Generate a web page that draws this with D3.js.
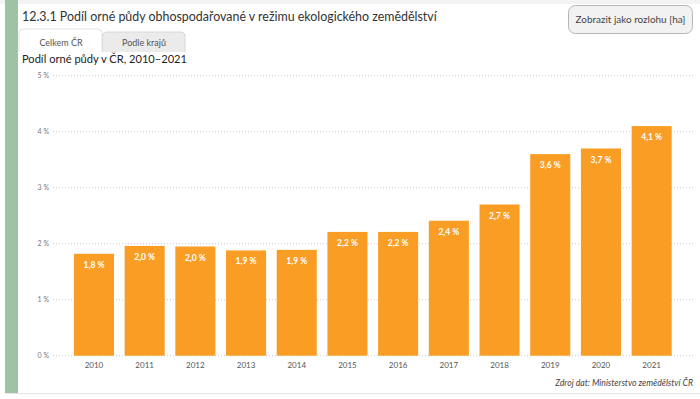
<!DOCTYPE html>
<html>
<head>
<meta charset="utf-8">
<script src="https://cdn.jsdelivr.net/npm/d3@7"></script>
<style>
  html, body { margin: 0; padding: 0; background: #fff; }
  svg { display: block; font-family: Lato, "Open Sans", sans-serif; }
</style>
</head>
<body>
<div id="chart"></div>
<script>
// data
var years = ["2010", "2011", "2012", "2013", "2014", "2015", "2016", "2017", "2018", "2019", "2020", "2021"];
var shares = [1.82, 1.96, 1.95, 1.88, 1.89, 2.21, 2.21, 2.41, 2.70, 3.60, 3.70, 4.10];
var shareLabels = ["1,8 %", "2,0 %", "2,0 %", "1,9 %", "1,9 %", "2,2 %", "2,2 %", "2,4 %", "2,7 %", "3,6 %", "3,7 %", "4,1 %"];
var yTicks = [0, 1, 2, 3, 4, 5];

var title = "12.3.1 Podíl orné půdy obhospodařované v režimu ekologického zemědělství";
var subtitle = "Podíl orné půdy v ČR, 2010–2021";
var source = "Zdroj dat: Ministerstvo zemědělství ČR";

var W = 700, H = 399;

var svg = d3.select("#chart")
  .append("svg")
    .attr("width", W)
    .attr("height", H);

// scale a text's font size so it spans the given width
function fitText(sel, width) {
  var fs = +sel.attr("font-size");
  var len = sel.node().getComputedTextLength();
  if (len > 0) sel.attr("font-size", (fs * width / len).toFixed(2));
}

// panel frame
svg.append("rect")
  .attr("x", 0).attr("y", 0).attr("width", W).attr("height", 4)
  .attr("fill", "#f3f3f3");
svg.append("rect")
  .attr("x", 5).attr("y", 0).attr("width", 13).attr("height", 393)
  .attr("fill", "#9dc3a3");
svg.append("line")
  .attr("x1", 5).attr("x2", W).attr("y1", 393.5).attr("y2", 393.5)
  .attr("stroke", "#e6e6e6");

var titleText = svg.append("text")
  .attr("x", 22).attr("y", 21)
  .attr("font-size", 14)
  .attr("fill", "#333")
  .text(title);
fitText(titleText, 415);

// button
svg.append("rect")
  .attr("x", 568.5).attr("y", 5.5).attr("width", 124).attr("height", 28)
  .attr("rx", 7)
  .attr("fill", "#f2f2f2")
  .attr("stroke", "#b5b5b5");
var btnText = svg.append("text")
  .attr("x", 630.5).attr("y", 23)
  .attr("text-anchor", "middle")
  .attr("font-size", 9.5)
  .attr("fill", "#444")
  .text("Zobrazit jako rozlohu [ha]");
fitText(btnText, 110);

// tabs
svg.append("path")
  .attr("d", "M102.5,52V36q0,-4 4,-4H181q4,0 4,4V52")
  .attr("fill", "#ebebeb")
  .attr("stroke", "#d8d8d8");
svg.append("path")
  .attr("d", "M19,52V33q0,-4 4,-4H98q4,0 4,4V52")
  .attr("fill", "#fff")
  .attr("stroke", "#e2e2e2");
svg.append("text")
  .attr("x", 61).attr("y", 46)
  .attr("text-anchor", "middle")
  .attr("font-size", 9)
  .attr("fill", "#555")
  .text("Celkem ČR");
svg.append("text")
  .attr("x", 144).attr("y", 46)
  .attr("text-anchor", "middle")
  .attr("font-size", 9)
  .attr("fill", "#555")
  .text("Podle krajů");

var subText = svg.append("text")
  .attr("x", 22).attr("y", 63)
  .attr("font-size", 12)
  .attr("fill", "#222")
  .text(subtitle);
fitText(subText, 165);

// scales
var xscale = d3.scaleBand()
  .domain(years)
  .range([68.6, 677])
  .paddingInner(0.21)
  .paddingOuter(0.105);

var yscale = d3.scaleLinear()
  .domain([0, 5])
  .range([355.7, 75.7]);

// grid + y labels
var grid = svg.append("g");
grid.selectAll("line")
  .data(yTicks)
  .join("line")
    .attr("x1", 53).attr("x2", 693)
    .attr("y1", function(d) { return yscale(d); })
    .attr("y2", function(d) { return yscale(d); })
    .attr("stroke", "#c8c8c8")
    .attr("stroke-dasharray", "1,2");
grid.selectAll("text")
  .data(yTicks)
  .join("text")
    .attr("x", 49)
    .attr("y", function(d) { return yscale(d) + 2.5; })
    .attr("text-anchor", "end")
    .attr("font-size", 7)
    .attr("fill", "#777")
    .text(function(d) { return d + " %"; });

// bars
svg.append("g")
  .selectAll("rect")
  .data(shares)
  .join("rect")
    .attr("x", function(d, i) { return xscale(years[i]); })
    .attr("y", function(d) { return yscale(d); })
    .attr("width", xscale.bandwidth())
    .attr("height", function(d) { return yscale(0) - yscale(d); })
    .attr("fill", "#f99d24");

// value labels
svg.append("g")
  .selectAll("text")
  .data(shares)
  .join("text")
    .attr("x", function(d, i) { return xscale(years[i]) + xscale.bandwidth() / 2; })
    .attr("y", function(d) { return yscale(d) + 14; })
    .attr("text-anchor", "middle")
    .attr("font-size", 8.5)
    .attr("font-weight", "bold")
    .attr("fill", "#fff")
    .text(function(d, i) { return shareLabels[i]; });

// x axis labels
svg.append("g")
  .selectAll("text")
  .data(years)
  .join("text")
    .attr("x", function(d) { return xscale(d) + xscale.bandwidth() / 2; })
    .attr("y", 368)
    .attr("text-anchor", "middle")
    .attr("font-size", 8)
    .attr("fill", "#555")
    .text(function(d) { return d; });

var srcText = svg.append("text")
  .attr("x", 693).attr("y", 386)
  .attr("text-anchor", "end")
  .attr("font-size", 8)
  .attr("font-style", "italic")
  .attr("fill", "#444")
  .text(source);
fitText(srcText, 138);
</script>
</body>
</html>
